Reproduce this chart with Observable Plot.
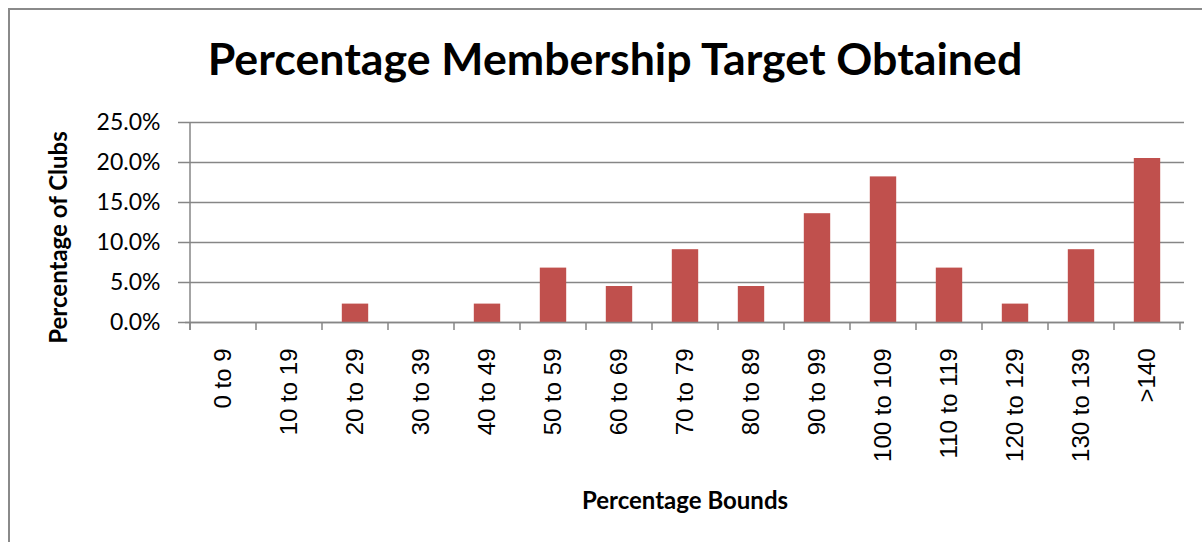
<!DOCTYPE html>
<html><head><meta charset="utf-8">
<script src="https://cdn.jsdelivr.net/npm/d3@7"></script>
<script src="https://cdn.jsdelivr.net/npm/@observablehq/plot@0.6"></script>
<style>
html,body{margin:0;padding:0;background:#fff;}
#wrap{position:relative;width:1202px;height:542px;overflow:hidden;}
#frame{position:absolute;left:8px;top:8px;width:1200px;height:540px;border-left:2px solid #8a8a8a;border-top:2px solid #8a8a8a;}
#title{position:absolute;left:24px;width:1182px;top:36px;text-align:center;font-family:Lato,sans-serif;font-weight:bold;font-size:44.7px;line-height:44px;color:#000;}
#chart{position:absolute;left:0;top:100px;}
</style>
</head><body>
<div id="wrap">
<div id="frame"></div>
<div id="title">Percentage Membership Target Obtained</div>
<div id="chart"></div>
</div>
<script>
const categories = ["0 to 9","10 to 19","20 to 29","30 to 39","40 to 49","50 to 59","60 to 69","70 to 79","80 to 89","90 to 99","100 to 109","110 to 119","120 to 129","130 to 139",">140"];
const values = [0, 0, 0.023, 0, 0.023, 0.068, 0.045, 0.091, 0.045, 0.136, 0.182, 0.068, 0.023, 0.091, 0.205];
const yTicks = [0, 0.05, 0.10, 0.15, 0.20, 0.25];
const xTitle = "Percentage Bounds";
const yTitle = "Percentage of Clubs";

const data = categories.map((c, i) => ({cat: c, value: values[i]}));
const gray = "#868686";
const yFmt = d => (d * 100).toFixed(1) + "%";

function boundaryTicks(index, scales, values, dimensions) {
  const x = scales.x, y = scales.y;
  const bw = x.bandwidth ? x.bandwidth() : 0;
  const y0 = y(0);
  const g = d3.create("svg:g").attr("stroke", gray).attr("stroke-width", 1.5);
  const xs = categories.map(c => x(c));
  xs.push(x(categories[categories.length - 1]) + bw);
  for (const xv of xs) {
    g.append("line").attr("x1", xv).attr("x2", xv).attr("y1", y0).attr("y2", y0 + 8);
  }
  g.append("line").attr("x1", xs[0]).attr("x2", xs[0]).attr("y1", y(0.25)).attr("y2", y0 + 8);
  return g.node();
}

const chart = Plot.plot({
  width: 1202,
  height: 442,
  marginTop: 22,
  marginBottom: 220,
  marginLeft: 185,
  marginRight: 18,
  x: {domain: categories, padding: 0, label: null},
  y: {domain: [0, 0.25], label: null},
  style: {background: "transparent", color: "#000", overflow: "visible"},
  marks: [
    Plot.gridY(yTicks, {stroke: gray, strokeOpacity: 1, strokeWidth: 1.5}),
    Plot.rectY(data, {x: "cat", y: "value", fill: "#C0504D", insetLeft: 19.8, insetRight: 19.8}),
    Plot.ruleY([0], {stroke: gray, strokeWidth: 1.5}),
    Plot.axisY(yTicks, {
      tickFormat: yFmt,
      tickSize: 7, tickPadding: 18, stroke: gray, strokeWidth: 1.5,
      fontSize: 23, fill: "#000", label: null
    }),
    Plot.axisX({
      tickSize: 0, tickRotate: -90, tickPadding: 26,
      fontSize: 24, fill: "#000", label: null
    }),
    boundaryTicks,
    Plot.text([xTitle], {frameAnchor: "bottom", lineAnchor: "middle", dy: 179, fontSize: 24, fontWeight: "bold", fill: "#000"}),
    Plot.text([yTitle], {frameAnchor: "left", textAnchor: "middle", lineAnchor: "middle", dx: -126, dy: 15, rotate: -90, fontSize: 24, fontWeight: "bold", fill: "#000"})
  ]
});
// enforce fonts on the rendered texts
const sel = d3.select(chart).selectAll("text");
sel.filter(function() { return categories.includes(this.textContent); })
  .style("font-size", "24px").style("font-family", "'Liberation Sans', Arial, sans-serif");
sel.filter(function() { return yTicks.map(yFmt).includes(this.textContent); })
  .style("font-size", "23px").style("font-family", "Lato, sans-serif");
sel.filter(function() { return this.textContent === xTitle || this.textContent === yTitle; })
  .style("font-size", "24px").style("font-family", "Lato, sans-serif").style("font-weight", "bold");
document.getElementById("chart").appendChild(chart);
</script>
</body></html>
